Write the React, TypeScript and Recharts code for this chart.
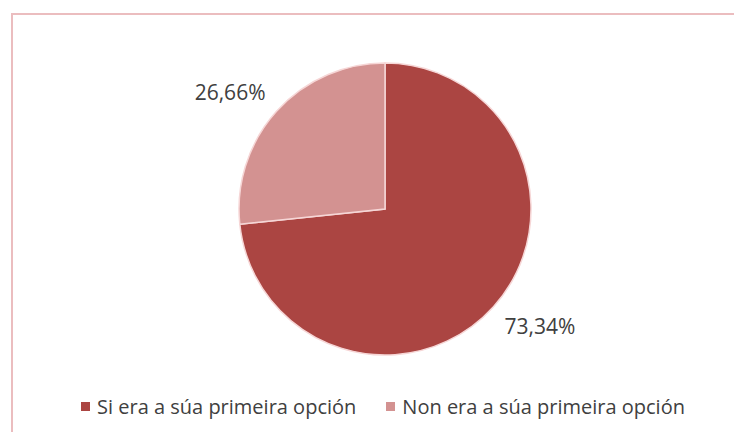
import React from "react";
import { PieChart, Pie, Cell, Legend } from "recharts";

const categories = ["Si era a súa primeira opción", "Non era a súa primeira opción"];
const values = [73.34, 26.66];
const colors = ["#AB4542", "#D39291"];

const data = categories.map((name, i) => ({ name, value: values[i] }));

const RAD = Math.PI / 180;
const FONT = "'Open Sans', 'Liberation Sans', sans-serif";

const renderLabel = (props: any) => {
  const { cx, cy, midAngle, outerRadius, value } = props;
  const r = outerRadius + 48;
  const a = (midAngle + 5) * RAD;
  const x = cx + r * Math.cos(a);
  const y = cy - r * Math.sin(a);
  return (
    <text
      x={x}
      y={y}
      textAnchor="middle"
      dominantBaseline="central"
      fill="#404040"
      fontSize={21}
      fontFamily={FONT}
    >
      {value.toFixed(2).replace(".", ",") + "%"}
    </text>
  );
};

const renderLegend = () => (
  <div
    style={{
      display: "flex",
      justifyContent: "center",
      alignItems: "center",
      gap: 30,
      fontFamily: FONT,
      fontSize: 20,
      color: "#404040",
      whiteSpace: "nowrap",
    }}
  >
    {categories.map((c, i) => (
      <div key={c} style={{ display: "flex", alignItems: "center" }}>
        <span
          style={{
            display: "inline-block",
            width: 9,
            height: 9,
            background: colors[i],
            marginRight: 7,
          }}
        />
        <span>{c}</span>
      </div>
    ))}
  </div>
);

export default function App() {
  return (
    <div
      style={{
        position: "absolute",
        left: 0,
        top: 0,
        width: 734,
        height: 432,
        overflow: "hidden",
        background: "#ffffff",
      }}
    >
      <div
        style={{
          position: "absolute",
          left: 11,
          top: 13,
          width: 723,
          height: 419,
          borderTop: "2px solid #EBBDBF",
          borderLeft: "2px solid #EBBDBF",
          boxSizing: "border-box",
        }}
      />
      <div style={{ position: "absolute", left: 0, top: 0 }}>
        <PieChart width={734} height={432}>
          <Pie
            data={data}
            dataKey="value"
            nameKey="name"
            cx={380}
            cy={204}
            outerRadius={146}
            startAngle={90}
            endAngle={-270}
            stroke="#F6D6D6"
            strokeWidth={1.5}
            label={renderLabel}
            labelLine={false}
            isAnimationActive={false}
          >
            {data.map((d, i) => (
              <Cell key={d.name} fill={colors[i]} />
            ))}
          </Pie>
          <Legend
            content={renderLegend}
            wrapperStyle={{ position: "absolute", left: 0, top: 393, width: 766 }}
          />
        </PieChart>
      </div>
    </div>
  );
}
